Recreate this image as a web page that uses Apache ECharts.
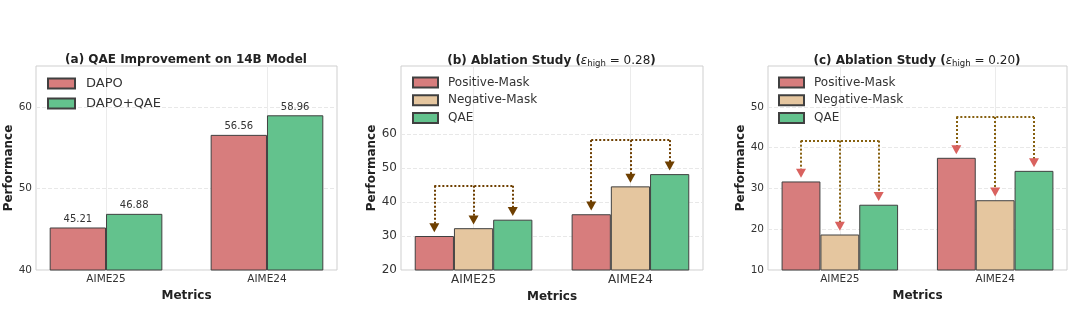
<!DOCTYPE html>
<html>
<head>
<meta charset="utf-8">
<script src="https://cdn.jsdelivr.net/npm/echarts@6/dist/echarts.min.js"></script>
<style>
  html, body { margin: 0; padding: 0; background: #fff; }
  #chart { width: 1080px; height: 335px; }
</style>
</head>
<body>
<div id="chart"></div>
<script>
// ---- data ----
const categories = ['AIME25', 'AIME24'];

// (a) 14B model
const dapo = [45.21, 56.56];
const dapoQae = [46.88, 58.96];

// (b) ablation, eps_high = 0.28
const posMaskB = [30.0, 36.4];
const negMaskB = [32.3, 44.6];
const qaeB = [34.8, 48.2];

// (c) ablation, eps_high = 0.20
const posMaskC = [31.7, 37.5];
const negMaskC = [18.7, 27.1];
const qaeC = [26.0, 34.3];

// tick labels
const yTicksA = [40, 50, 60];
const yTicksB = [20, 30, 40, 50, 60];
const yTicksC = [10, 20, 30, 40, 50];

// ---- style ----
const FONT = 'DejaVu Sans';
const RED = '#d77d7d';
const TAN = '#e5c69f';
const GREEN = '#63c28d';
const EDGE = '#404040';
const FRAME = '#cfcfcf';

const catIdx = categories.map((_, i) => i);
const pairs = vals => vals.map((v, i) => [i, v]);

function barSeries(name, vals, color, axis, width, extra) {
  return Object.assign({
    type: 'bar', name: name,
    xAxisIndex: axis, yAxisIndex: axis,
    data: pairs(vals),
    barWidth: width, barGap: '0%',
    itemStyle: { color: color, borderColor: EDGE, borderWidth: 1 },
    emphasis: { disabled: true }
  }, extra || {});
}

function grid(left, width) {
  return { left: left, top: 66, width: width, height: 204, show: true,
           borderColor: FRAME, borderWidth: 1, backgroundColor: '#fff' };
}

function xAxis(idx, span, fs, nameGap) {
  return {
    type: 'value', gridIndex: idx, min: -span, max: 1 + span,
    name: 'Metrics', nameLocation: 'middle', nameGap: nameGap,
    nameTextStyle: { fontFamily: FONT, fontWeight: 'bold', fontSize: 12, color: '#222' },
    axisLine: { show: false },
    axisTick: { show: false, customValues: catIdx },
    axisLabel: { customValues: catIdx, formatter: v => categories[Math.round(v)],
                 fontFamily: FONT, fontSize: fs, color: '#333', margin: 4 },
    splitLine: { show: true, lineStyle: { color: '#ebebeb', width: 1 } }
  };
}

function yAxis(idx, min, max, ticks, fs, nameGap) {
  return {
    type: 'value', gridIndex: idx, min: min, max: max,
    name: 'Performance', nameLocation: 'middle', nameGap: nameGap, nameRotate: 90,
    nameTextStyle: { fontFamily: FONT, fontWeight: 'bold', fontSize: 12, color: '#222' },
    axisLine: { show: false },
    axisTick: { show: false, customValues: ticks },
    axisLabel: { customValues: ticks, fontFamily: FONT, fontSize: fs, color: '#333', margin: 4 },
    splitLine: { show: true, lineStyle: { color: '#e8e8e8', width: 1, type: [4, 2] } }
  };
}

// dotted bracket arrows from a common level down to each bar of a group,
// carried by an empty series so markers use the plain axis coordinates
function arrowSeries(axis, groups, lineColor, headColor, tipGap) {
  const offs = [-0.25, 0, 0.25];
  const lines = [];
  const heads = [];
  catIdx.forEach(i => {
    const vals = groups.map(g => g[i]);
    const top = Math.max.apply(null, vals) + 10;
    lines.push([{ coord: [i + offs[0], top] }, { coord: [i + offs[2], top] }]);
    vals.forEach((v, k) => {
      lines.push([{ coord: [i + offs[k], top] }, { coord: [i + offs[k], v + tipGap] }]);
      heads.push({ coord: [i + offs[k], v + tipGap] });
    });
  });
  return {
    type: 'line', name: 'arrows-' + axis, data: [],
    xAxisIndex: axis, yAxisIndex: axis, silent: true, z: 5,
    markLine: {
      silent: true, symbol: ['none', 'none'], label: { show: false },
      lineStyle: { color: lineColor, width: 2, type: [2, 2] },
      emphasis: { disabled: true }, data: lines
    },
    markPoint: {
      silent: true, symbol: 'triangle', symbolRotate: 180, symbolSize: [10, 9],
      itemStyle: { color: headColor }, label: { show: false }, data: heads
    }
  };
}

const TFS = 12;
function title(text, x) {
  return {
    text: text, left: x, top: 49, textAlign: 'center',
    textStyle: { fontFamily: FONT, fontWeight: 'bold', fontSize: TFS, color: '#222', rich: titleRich }
  };
}

const titleRich = {
  b: { fontFamily: FONT, fontWeight: 'bold', fontSize: TFS, color: '#222' },
  e: { fontFamily: FONT, fontStyle: 'italic', fontWeight: 'normal', fontSize: TFS, color: '#222' },
  s: { fontFamily: FONT, fontWeight: 'normal', fontSize: 8.5, color: '#222', verticalAlign: 'bottom', padding: [5, 0, 0, 0] },
  n: { fontFamily: FONT, fontWeight: 'normal', fontSize: TFS, color: '#222' }
};

function legend(names, left, top, fs, gap, textPad, iw) {
  return {
    data: names, orient: 'vertical', left: left, top: top, padding: 0,
    itemWidth: iw, itemHeight: 10, itemGap: gap, icon: 'rect',
    selectedMode: false,
    textStyle: { fontFamily: FONT, fontSize: fs, lineHeight: fs, color: '#333', padding: [0, 0, 0, textPad] }
  };
}

const barLabel = {
  show: true, position: 'top', distance: 3,
  fontFamily: FONT, fontSize: 10, color: '#333',
  formatter: p => p.value[1].toFixed(2)
};

const maskNames = ['Positive-Mask', 'Negative-Mask', 'QAE'];

const chart = echarts.init(document.getElementById('chart'), null, { renderer: 'canvas' });
chart.setOption({
  animation: false,
  backgroundColor: '#fff',
  title: [
    title('(a) QAE Improvement on 14B Model', 181),
    title('{b|(b) Ablation Study (}{e|ε}{s|high}{n| = 0.28}{b|)}', 546.5),
    title('{b|(c) Ablation Study (}{e|ε}{s|high}{n| = 0.20}{b|)}', 912)
  ],
  legend: [
    legend(['DAPO', 'DAPO+QAE'], 47, 77, 13, 7, 6, 27),
    legend(maskNames, 412, 76.5, 12, 5.7, 5, 25),
    legend(maskNames, 778, 76.5, 12, 5.7, 5, 25)
  ],
  grid: [grid(36, 301), grid(401, 302), grid(768, 299)],
  xAxis: [
    xAxis(0, 0.435, 10.5, 17),
    xAxis(1, 0.4625, 12, 17),
    xAxis(2, 0.4625, 10.5, 17)
  ],
  yAxis: [
    yAxis(0, 40, 65, yTicksA, 10.5, 17),
    yAxis(1, 20, 80, yTicksB, 12, 19),
    yAxis(2, 10, 60, yTicksC, 10.5, 19)
  ],
  series: [
    barSeries('DAPO', dapo, RED, 0, '35%', { label: barLabel }),
    barSeries('DAPO+QAE', dapoQae, GREEN, 0, '35%', { label: barLabel }),

    barSeries('Positive-Mask', posMaskB, RED, 1, '25%'),
    barSeries('Negative-Mask', negMaskB, TAN, 1, '25%'),
    barSeries('QAE', qaeB, GREEN, 1, '25%'),
    arrowSeries(1, [posMaskB, negMaskB, qaeB], '#6e3f00', '#6e3f00', 2.4),

    barSeries('Positive-Mask', posMaskC, RED, 2, '25%'),
    barSeries('Negative-Mask', negMaskC, TAN, 2, '25%'),
    barSeries('QAE', qaeC, GREEN, 2, '25%'),
    arrowSeries(2, [posMaskC, negMaskC, qaeC], '#86600f', '#d9625f', 2.0)
  ]
});
</script>
</body>
</html>
